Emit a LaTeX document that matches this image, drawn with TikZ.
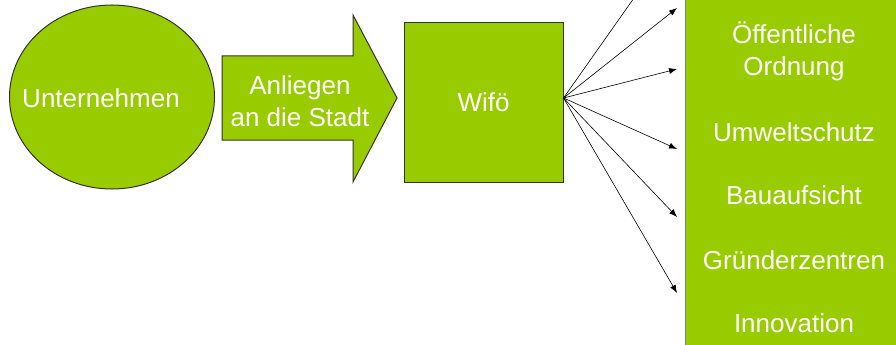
\documentclass[tikz,border=0pt]{standalone}
\usepackage{fontspec}
\setmainfont{Liberation Sans}
\usepackage{tikz}
\usetikzlibrary{shapes,shapes.geometric,arrows.meta,positioning}
\definecolor{wifogreen}{RGB}{153,204,0}

\begin{document}
\begin{tikzpicture}[x=1pt,y=-1pt]
        \tikzstyle{every node} = [align=center, text=white, font=\fontsize{26}{32}\selectfont, inner sep=0pt]
        \tikzstyle{greenbox} = [fill=wifogreen, draw=black!70!wifogreen, line width=1pt]
        \useasboundingbox (0,0) rectangle (896,345);
        \clip (0,0) rectangle (896,345);

        \node[greenbox, draw=black!80, ellipse, minimum width=205, minimum height=184](unt) at (112,97){};
        \node(untlabel) at (101,98){Unternehmen};
        \draw[greenbox, draw=black!80] (222,56) -- (353,56) -- (353,15) -- (397,98) -- (353,182) -- (353,140) -- (222,140) -- cycle;
        \node(anl) at (300,101){Anliegen\\an die Stadt};
        \node[greenbox, minimum width=159, minimum height=159](wifo) at (483.5,102.5){Wif\"o};

        \fill[wifogreen] (685,-5) rectangle (900,350);
        \draw[gray, line width=1pt] (685,-5) -- (685,350);
        \node(oeff) at (794,51){\"Offentliche\\Ordnung};
        \node(umw) at (794,132){Umweltschutz};
        \node(bau) at (794,195){Bauaufsicht};
        \node(gruend) at (794,260){Gr\"underzentren};
        \node(inno) at (794,323){Innovation};

        \coordinate[yshift=4.5pt](hub) at (wifo.east);
        \coordinate(a0) at (653,-29);
        \coordinate(a1) at (677,8);
        \coordinate(a2) at (677,69);
        \coordinate(a3) at (677,149);
        \coordinate(a4) at (677,217);
        \coordinate(a5) at (677,293);
        \foreach \t in {a0,a1,a2,a3,a4,a5}
            \draw[-{Latex[length=8pt,width=6pt]}, line width=0.6pt] (hub) -- (\t);
    \end{tikzpicture}
\end{document}
